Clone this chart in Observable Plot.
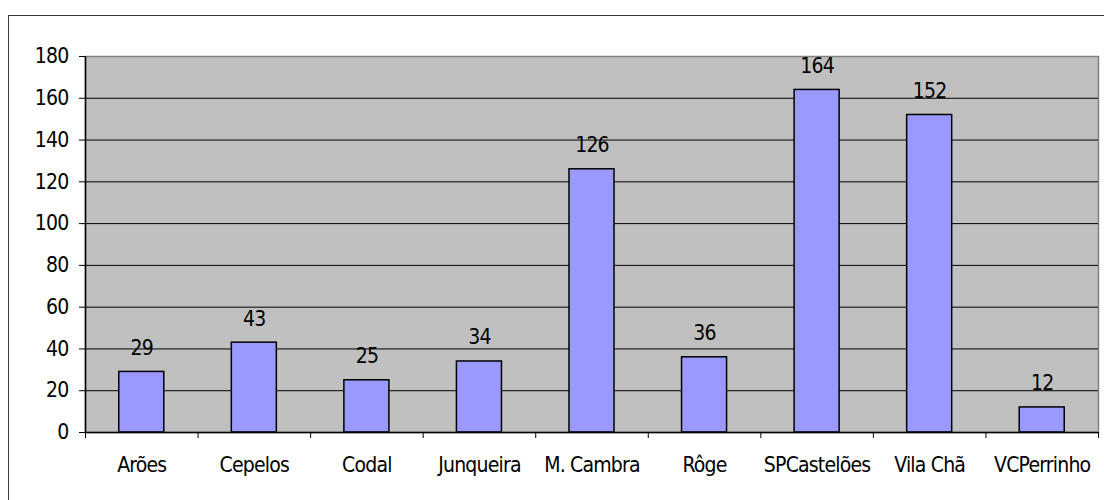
<!DOCTYPE html>
<html>
<head>
<meta charset="utf-8">
<script src="https://cdn.jsdelivr.net/npm/d3@7"></script>
<script src="https://cdn.jsdelivr.net/npm/@observablehq/plot@0.6"></script>
<style>
  html, body { margin: 0; padding: 0; background: #fff; overflow: hidden; width: 1104px; height: 500px; }
  #wrap { position: relative; width: 1104px; height: 500px; }
  #border { position: absolute; left: 8px; top: 15px; width: 1200px; height: 600px; border: 1.5px solid #3a3a3a; box-sizing: border-box; }
  #chart { position: absolute; left: 0; top: 0; }
  #chart svg text { letter-spacing: -0.8px; }
</style>
</head>
<body>
<div id="wrap"><div id="border"></div><div id="chart"></div></div>
<script>
const categories = ["Arões", "Cepelos", "Codal", "Junqueira", "M. Cambra", "Rôge", "SPCastelões", "Vila Chã", "VCPerrinho"];
const values = [29, 43, 25, 34, 126, 36, 164, 152, 12];
const yTicks = [0, 20, 40, 60, 80, 100, 120, 140, 160, 180];
const gridValues = [20, 40, 60, 80, 100, 120, 140, 160];

const data = categories.map((name, i) => ({ name, i, value: values[i] }));
const font = "'DejaVu Sans Condensed', 'DejaVu Sans', sans-serif";

const chart = Plot.plot({
  width: 1104,
  height: 500,
  marginLeft: 85,
  marginTop: 56,
  marginRight: 6,
  marginBottom: 68,
  style: { fontFamily: font, fontSize: "21px", color: "black", background: "transparent", fontStretch: "condensed" },
  x: { type: "linear", domain: [0, categories.length], axis: null },
  y: { domain: [0, 180], axis: null },
  marks: [
    Plot.frame({ fill: "#c0c0c0", stroke: "#808080", strokeWidth: 1.5 }),
    Plot.ruleY(gridValues, { stroke: "black", strokeWidth: 1 }),
    Plot.rectY(data, { x1: d => d.i + 0.3, x2: d => d.i + 0.7, y1: 0, y2: "value", fill: "#9999ff", stroke: "black", strokeWidth: 1.5 }),
    Plot.text(data, { x: d => d.i + 0.5, y: "value", text: d => String(d.value), lineAnchor: "bottom", dy: -17, fontSize: 21, fill: "black" }),
    Plot.ruleX([0], { stroke: "black", strokeWidth: 1.5 }),
    Plot.ruleY([0], { stroke: "black", strokeWidth: 1.5 }),
    Plot.axisY({ ticks: yTicks, tickSize: 6, tickPadding: 11, tickFormat: d => String(d), fontSize: 21, label: null }),
    Plot.axisX({ ticks: d3.range(0, categories.length + 1), tickSize: 6, tickFormat: () => "", label: null }),
    Plot.axisX({ ticks: categories.map((_, i) => i + 0.5), tickSize: 0, tickPadding: 25, tickFormat: d => categories[Math.floor(d)], fontSize: 21, label: null })
  ]
});
document.getElementById("chart").appendChild(chart);
</script>
</body>
</html>
